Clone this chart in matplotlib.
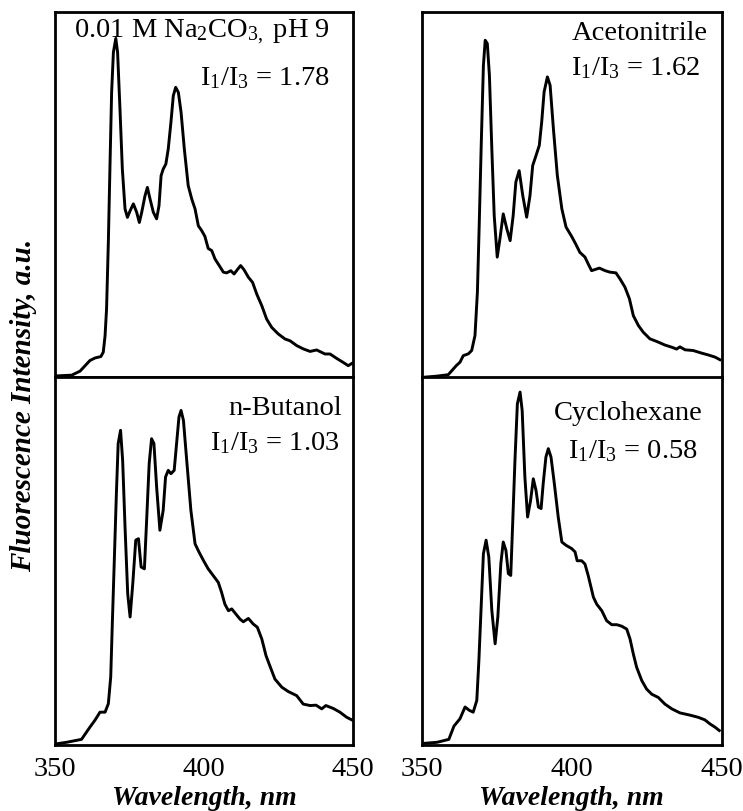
import matplotlib
matplotlib.use("Agg")
import matplotlib.pyplot as plt

plt.rcParams['font.family'] = ['Liberation Serif', 'DejaVu Serif']
plt.rcParams['mathtext.fontset'] = 'custom'
plt.rcParams['mathtext.rm'] = 'Liberation Serif'
plt.rcParams['mathtext.it'] = 'Liberation Serif:italic'
plt.rcParams['mathtext.bf'] = 'Liberation Serif:bold'

# ---- data (wavelength nm, normalized intensity) ----
na2co3_x = [350.5, 355.6, 358.4, 361.7, 363.4, 365.4, 366.2, 366.8, 367.3, 367.9, 368.5, 369.0,
            369.6, 370.4, 371.0, 371.8, 372.6, 373.5, 374.3, 375.2, 376.3, 377.4, 378.3, 379.1,
            380.2, 381.0, 381.9, 383.0, 384.1, 384.9, 385.6, 386.3, 387.2, 388.0, 388.9, 389.7,
            390.5, 391.4, 392.3, 393.4, 394.7, 395.9, 397.0, 398.1, 399.2, 400.3, 401.4, 402.6,
            403.7, 404.8, 406.5, 407.6, 409.0, 410.1, 411.2, 412.3, 413.4, 414.9, 416.3, 417.7,
            419.4, 421.0, 422.7, 424.9, 427.2, 428.9, 431.1, 433.3, 435.6, 437.8, 440.6, 442.3,
            444.5, 446.7, 448.4, 449.6]
na2co3_y = [0.003, 0.005, 0.016, 0.045, 0.052, 0.056, 0.068, 0.113, 0.186, 0.369, 0.597, 0.779,
            0.889, 0.927, 0.889, 0.734, 0.569, 0.46, 0.437, 0.455, 0.474, 0.451, 0.423, 0.451,
            0.496, 0.519, 0.487, 0.451, 0.433, 0.469, 0.551, 0.569, 0.583, 0.624, 0.697, 0.77,
            0.793, 0.779, 0.725, 0.624, 0.524, 0.487, 0.46, 0.414, 0.401, 0.385, 0.352, 0.346,
            0.323, 0.309, 0.287, 0.285, 0.291, 0.282, 0.294, 0.305, 0.294, 0.273, 0.259, 0.227,
            0.195, 0.159, 0.136, 0.118, 0.104, 0.099, 0.086, 0.077, 0.07, 0.074, 0.063, 0.063,
            0.051, 0.04, 0.031, 0.037]

acn_x = [350.6, 355.0, 358.9, 361.6, 362.8, 363.9, 365.6, 366.7, 367.8, 368.6, 369.2, 369.9,
         370.6, 371.2, 371.9, 372.6, 373.4, 374.2, 375.2, 376.1, 377.2, 378.4, 379.5, 380.5,
         381.4, 382.5, 383.7, 385.0, 386.1, 387.0, 388.1, 389.2, 390.0, 390.8, 391.9, 392.8,
         393.9, 395.2, 396.7, 398.1, 400.0, 401.3, 402.7, 404.4, 405.5, 406.6, 407.7, 409.2,
         411.1, 412.7, 414.7, 416.1, 417.7, 419.2, 420.5, 422.2, 423.8, 426.0, 428.5, 431.0,
         433.3, 434.9, 436.0, 437.7, 440.4, 443.2, 445.4, 447.7, 449.3]
acn_y = [0.002, 0.005, 0.009, 0.034, 0.043, 0.061, 0.066, 0.075, 0.116, 0.234, 0.416, 0.644,
         0.853, 0.922, 0.913, 0.826, 0.626, 0.443, 0.33, 0.38, 0.448, 0.407, 0.375, 0.443,
         0.535, 0.566, 0.498, 0.439, 0.498, 0.58, 0.607, 0.635, 0.699, 0.781, 0.822, 0.799,
         0.68, 0.553, 0.462, 0.412, 0.386, 0.366, 0.343, 0.33, 0.311, 0.293, 0.296, 0.3,
         0.293, 0.289, 0.287, 0.27, 0.248, 0.216, 0.17, 0.143, 0.125, 0.107, 0.099, 0.09,
         0.084, 0.079, 0.085, 0.077, 0.075, 0.068, 0.063, 0.057, 0.05]

buoh_x = [350.6, 353.9, 358.9, 361.7, 363.4, 365.1, 366.8, 367.9, 368.7, 369.2, 369.9, 370.6,
          371.2, 372.0, 372.7, 373.5, 374.4, 375.2, 376.1, 377.1, 378.0, 378.9, 380.0, 380.8,
          381.6, 382.4, 383.2, 384.1, 385.2, 386.3, 387.1, 388.0, 388.9, 390.0, 390.8, 391.6,
          392.3, 393.1, 394.2, 395.6, 397.0, 398.3, 399.8, 401.4, 402.6, 404.8, 405.9, 407.0,
          408.2, 409.3, 410.7, 412.1, 413.2, 414.9, 416.5, 417.9, 419.4, 420.8, 422.1, 423.8,
          426.1, 428.3, 431.1, 433.3, 435.6, 437.6, 439.5, 440.9, 443.4, 445.6, 447.9, 449.6]
buoh_y = [0.002, 0.006, 0.014, 0.047, 0.066, 0.088, 0.088, 0.111, 0.184, 0.32, 0.501, 0.683,
          0.819, 0.855, 0.773, 0.592, 0.41, 0.347, 0.438, 0.556, 0.56, 0.483, 0.478, 0.619,
          0.764, 0.832, 0.819, 0.701, 0.583, 0.637, 0.728, 0.746, 0.737, 0.746, 0.819, 0.891,
          0.909, 0.882, 0.773, 0.637, 0.546, 0.524, 0.501, 0.478, 0.465, 0.441, 0.414, 0.382,
          0.364, 0.369, 0.355, 0.341, 0.334, 0.343, 0.328, 0.319, 0.287, 0.242, 0.214, 0.178,
          0.156, 0.144, 0.133, 0.11, 0.106, 0.107, 0.097, 0.106, 0.098, 0.088, 0.074, 0.067]

chx_x = [350.6, 355.2, 359.1, 360.8, 362.8, 364.5, 365.9, 367.2, 368.4, 369.1, 369.8, 370.6,
         371.5, 372.4, 373.4, 374.5, 375.4, 376.4, 377.2, 378.1, 378.9, 379.7, 380.3, 381.1,
         381.9, 382.8, 383.5, 384.4, 385.3, 386.3, 387.2, 388.1, 388.9, 389.8, 390.5, 391.4,
         392.2, 393.1, 394.2, 395.5, 396.7, 398.1, 400.0, 401.1, 401.8, 403.3, 404.4, 405.5,
         407.2, 408.3, 410.0, 411.6, 413.3, 415.0, 416.6, 418.3, 419.4, 420.5, 421.6, 423.3,
         424.9, 426.6, 428.8, 431.0, 433.3, 436.0, 439.3, 442.1, 444.3, 446.0, 447.7, 449.1]
chx_y = [0.003, 0.006, 0.014, 0.05, 0.07, 0.102, 0.093, 0.088, 0.12, 0.229, 0.365, 0.519,
         0.556, 0.51, 0.365, 0.274, 0.347, 0.492, 0.551, 0.528, 0.465, 0.46, 0.592, 0.773,
         0.927, 0.959, 0.909, 0.728, 0.619, 0.664, 0.723, 0.692, 0.646, 0.642, 0.71, 0.782,
         0.805, 0.782, 0.71, 0.619, 0.551, 0.542, 0.533, 0.524, 0.5, 0.5, 0.491, 0.459,
         0.401, 0.382, 0.364, 0.337, 0.326, 0.326, 0.322, 0.314, 0.287, 0.246, 0.21, 0.174,
         0.151, 0.137, 0.128, 0.11, 0.097, 0.086, 0.08, 0.074, 0.067, 0.056, 0.047, 0.038]

solvent_labels = [r"0.01 M Na$_2$CO$_{3,}$ pH 9", "Acetonitrile", "n-Butanol", "Cyclohexane"]
ratio_labels = [r"I$_1$/I$_3$ = 1.78", r"I$_1$/I$_3$ = 1.62", r"I$_1$/I$_3$ = 1.03", r"I$_1$/I$_3$ = 0.58"]
xticks = [350, 400, 450]

W, H = 743, 812
fig = plt.figure(figsize=(W / 100, H / 100), dpi=100)

rects = [
    (55 / W, 1 - 378 / H, 298 / W, 365.3 / H),
    (421.5 / W, 1 - 379 / H, 300.5 / W, 366.3 / H),
    (55 / W, 1 - 745.5 / H, 298 / W, 367.5 / H),
    (421.5 / W, 1 - 745.5 / H, 300.5 / W, 367.5 / H),
]
series = [(na2co3_x, na2co3_y), (acn_x, acn_y), (buoh_x, buoh_y), (chx_x, chx_y)]
label_pos = [
    ((0.923, 0.931), (0.923, 0.802)),
    ((0.953, 0.926), (0.927, 0.831)),
    ((0.963, 0.899), (0.956, 0.804)),
    ((0.937, 0.886), (0.920, 0.782)),
]

for i, (rect, (xs, ys)) in enumerate(zip(rects, series)):
    ax = fig.add_axes(rect)
    ax.plot(xs, ys, color='black', lw=2.1, solid_joinstyle='round')
    ax.set_xlim(350, 450)
    ax.set_ylim(0, 1)
    for s in ax.spines.values():
        s.set_linewidth(2.0)
    ax.set_yticks([])
    ax.set_xticks(xticks)
    ax.tick_params(axis='x', length=0, pad=8, labelsize=20.5)
    if i < 2:
        ax.set_xticklabels([])
    else:
        ax.set_xlabel("Wavelength, nm", fontsize=20, fontweight='bold', fontstyle='italic', labelpad=3)
    (x1, y1), (x2, y2) = label_pos[i]
    ax.text(x1, y1, solvent_labels[i], transform=ax.transAxes, ha='right', va='baseline', fontsize=20.5)
    ax.text(x2, y2, ratio_labels[i], transform=ax.transAxes, ha='right', va='baseline', fontsize=20.5)

fig.text(24 / W, 1 - 405 / H, "Fluorescence Intensity, a.u.", rotation=90, ha='center', va='center',
         fontsize=21, fontweight='bold', fontstyle='italic')

fig.savefig("out.png", dpi=100)
